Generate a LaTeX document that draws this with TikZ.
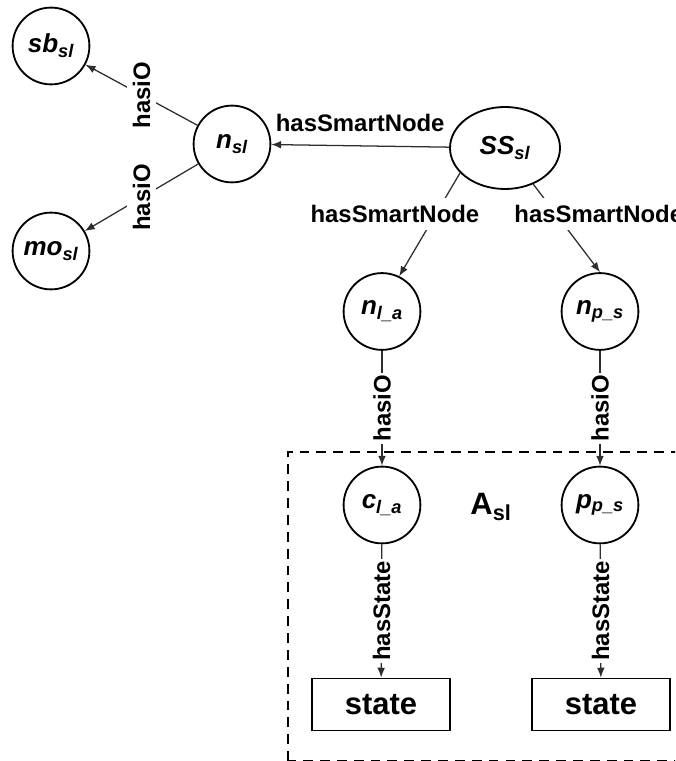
\documentclass[tikz,border=0pt]{standalone}
\usepackage{fontspec}
\usepackage{tikz}
\setmainfont{Liberation Sans}
\usetikzlibrary{arrows.meta,shapes.geometric}
\definecolor{linkgray}{RGB}{45,45,45}

\tikzset{
  obj/.style={draw, circle, line width=1.3pt, minimum size=1.92cm, inner sep=0pt,
    font=\fontsize{18.5}{20}\selectfont\bfseries\itshape},
  statebox/.style={draw, rectangle, line width=1.3pt, minimum width=3.45cm,
    minimum height=1.3cm, font=\fontsize{22}{24}\selectfont\bfseries},
  link/.style={draw=linkgray, line width=0.9pt, -{Latex[length=7pt,width=5.5pt]}},
  rel/.style={font=\fontsize{17}{19}\selectfont\bfseries, inner sep=1.5pt},
}

\begin{document}
\begin{tikzpicture}
  \path[use as bounding box, clip] (0,0) rectangle (16.875,19.025);

  % Smart space and its nodes
  \node[draw, ellipse, line width=1.3pt, minimum width=2.75cm, minimum height=2.05cm,
    inner sep=0pt, font=\fontsize{18.5}{20}\selectfont\bfseries\itshape]
    (ss) at (12.625,15.325) {SS\textsubscript{sl}};
  \node[obj] (nsl) at (5.8,15.425) {n\textsubscript{sl}};
  \node[obj] (sb) at (1.275,17.875) {sb\textsubscript{sl}};
  \node[obj] (mo) at (1.275,12.75) {mo\textsubscript{sl}};
  \node[obj] (nla) at (9.55,11.2375) {n\textsubscript{l\_a}};
  \node[obj] (nps) at (15.0,11.2375) {n\textsubscript{p\_s}};

  \draw[link] (ss) -- node[rel, above=8pt] {hasSmartNode} (nsl);
  \draw[link] (nsl) -- node[rel, fill=white, rotate=90, inner sep=4pt] {hasiO} (sb);
  \draw[link] (nsl) -- node[rel, fill=white, rotate=90, inner sep=4pt] {hasiO} (mo);
  \draw[link] (ss.209) -- node[rel, fill=white, inner ysep=5pt, pos=0.4, xshift=-1.02cm] {hasSmartNode} (nla.64);
  \draw[link] (ss.308) -- node[rel, fill=white, inner ysep=5pt, pos=0.34, xshift=1.07cm] {hasSmartNode} (nps.north);

  % Area with its devices
  \draw[line width=1.3pt, dash pattern=on 7pt off 5pt] (7.2,0.0) rectangle (17.5,7.725);
  \node[obj] (cla) at (9.55,6.4) {c\textsubscript{l\_a}};
  \node[obj] (pps) at (15.0,6.4) {p\textsubscript{p\_s}};
  \node[font=\fontsize{22}{24}\selectfont\bfseries] (asl) at (12.275,6.35) {A\textsubscript{sl}};
  \node[statebox] (sta) at (9.525,1.4125) {state};
  \node[statebox] (stp) at (15.025,1.4125) {state};

  \draw[link] (nla) -- node[rel, fill=white, rotate=90] {hasiO} (cla);
  \draw[link] (nps) -- node[rel, fill=white, rotate=90] {hasiO} (pps);
  \draw[link] (cla) -- node[rel, fill=white, rotate=90] {hasState} (sta);
  \draw[link] (pps) -- node[rel, fill=white, rotate=90] {hasState} (stp);
\end{tikzpicture}
\end{document}
